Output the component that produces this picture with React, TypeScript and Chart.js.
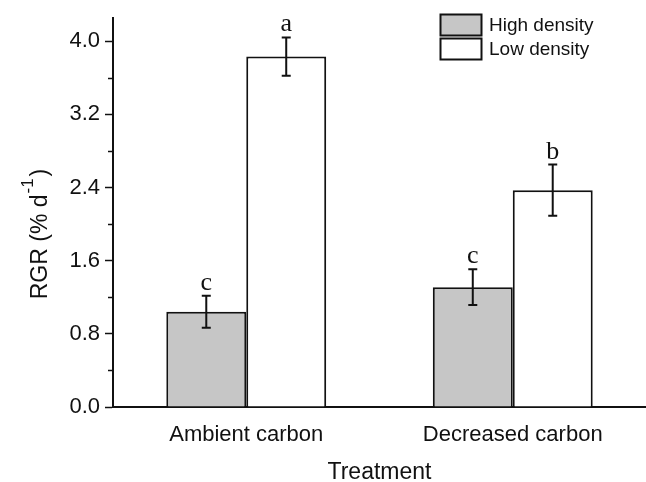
import React, { useEffect, useRef } from 'react';
import { Chart, registerables } from 'chart.js';

Chart.register(...registerables);

const categories = ['Ambient carbon', 'Decreased carbon'];
const seriesNames = ['High density', 'Low density'];
const highDensity = [1.04, 1.31];
const lowDensity = [3.83, 2.37];
const highErr = [0.175, 0.195];
const lowErr = [0.21, 0.28];
const highLetters = ['c', 'c'];
const lowLetters = ['a', 'b'];
const yTickValues = [0, 0.4, 0.8, 1.2, 1.6, 2.0, 2.4, 2.8, 3.2, 3.6, 4.0];
const yMajorTicks = [0, 0.8, 1.6, 2.4, 3.2, 4.0];
const yMin = 0;
const yMax = 4.25;
const xTitle = 'Treatment';

const errors = [highErr, lowErr];
const letters = [highLetters, lowLetters];
const fills = ['#c6c6c6', '#ffffff'];
const SANS = '"Liberation Sans", Arial, sans-serif';
const SERIF = '"Liberation Serif", "Times New Roman", serif';

const isMajor = (v: number) => yMajorTicks.some((m) => Math.abs(m - v) < 1e-6);

const customPlugin = {
  id: 'custom',
  afterDatasetsDraw(chart: any) {
    const ctx = chart.ctx;
    const yScale = chart.scales.y;
    ctx.save();
    chart.data.datasets.forEach((ds: any, di: number) => {
      const meta = chart.getDatasetMeta(di);
      meta.data.forEach((el: any, i: number) => {
        const v = ds.data[i];
        const e = errors[di][i];
        const x = el.x;
        const yt = yScale.getPixelForValue(v + e);
        const yb = yScale.getPixelForValue(v - e);
        ctx.strokeStyle = '#111';
        ctx.lineWidth = 2;
        ctx.beginPath();
        ctx.moveTo(x, yt);
        ctx.lineTo(x, yb);
        ctx.moveTo(x - 4.5, yt);
        ctx.lineTo(x + 4.5, yt);
        ctx.moveTo(x - 4.5, yb);
        ctx.lineTo(x + 4.5, yb);
        ctx.stroke();
        ctx.fillStyle = '#111';
        ctx.font = `26px ${SERIF}`;
        ctx.textAlign = 'center';
        ctx.textBaseline = 'alphabetic';
        ctx.fillText(letters[di][i], x, yt - 6);
      });
    });
    ctx.restore();
  },
  afterDraw(chart: any) {
    const ctx = chart.ctx;
    const yScale = chart.scales.y;
    const area = chart.chartArea;
    ctx.save();
    // minor ticks
    ctx.strokeStyle = '#111';
    ctx.lineWidth = 1.5;
    yTickValues.forEach((v) => {
      if (isMajor(v)) return;
      const y = Math.round(yScale.getPixelForValue(v)) + 0.5;
      ctx.beginPath();
      ctx.moveTo(area.left - 5, y);
      ctx.lineTo(area.left, y);
      ctx.stroke();
    });
    // legend
    const boxes = [14.5, 38.5];
    boxes.forEach((by, i) => {
      ctx.fillStyle = fills[i];
      ctx.fillRect(440.5, by, 41, 21);
      ctx.strokeStyle = '#111';
      ctx.lineWidth = 2;
      ctx.strokeRect(440.5, by, 41, 21);
      ctx.fillStyle = '#111';
      ctx.font = `19px ${SANS}`;
      ctx.textAlign = 'left';
      ctx.textBaseline = 'middle';
      ctx.fillText(seriesNames[i], 489, by + 11);
    });
    // y title with superscript
    ctx.translate(47, 234);
    ctx.rotate(-Math.PI / 2);
    ctx.fillStyle = '#111';
    ctx.textBaseline = 'alphabetic';
    ctx.textAlign = 'left';
    const mainFont = `23px ${SANS}`;
    const supFont = `17px ${SANS}`;
    const p1 = 'RGR (% d';
    const p2 = '-1';
    const p3 = ')';
    ctx.font = mainFont;
    const w1 = ctx.measureText(p1).width;
    const w3 = ctx.measureText(p3).width;
    ctx.font = supFont;
    const w2 = ctx.measureText(p2).width;
    let x = -(w1 + w2 + w3 + 3) / 2;
    ctx.font = mainFont;
    ctx.fillText(p1, x, 0);
    x += w1 + 1;
    ctx.font = supFont;
    ctx.fillText(p2, x, -14);
    x += w2 + 2;
    ctx.font = mainFont;
    ctx.fillText(p3, x, 0);
    ctx.restore();
  },
};

export default function App() {
  const ref = useRef<HTMLCanvasElement | null>(null);
  useEffect(() => {
    if (!ref.current) return;
    const chart = new Chart(ref.current, {
      type: 'bar',
      data: {
        labels: categories,
        datasets: [
          {
            label: seriesNames[0],
            data: highDensity,
            backgroundColor: fills[0],
            borderColor: '#111',
            borderWidth: 2,
            categoryPercentage: 0.6,
            barPercentage: 1.0,
          },
          {
            label: seriesNames[1],
            data: lowDensity,
            backgroundColor: fills[1],
            borderColor: '#111',
            borderWidth: 2,
            categoryPercentage: 0.6,
            barPercentage: 1.0,
          },
        ],
      },
      options: {
        responsive: false,
        animation: false,
        devicePixelRatio: 1,
        layout: { padding: { top: 15, right: 0, left: 0, bottom: 0 } },
        plugins: { legend: { display: false }, tooltip: { enabled: false } },
        scales: {
          x: {
            grid: { display: false, drawTicks: false },
            border: { display: true, color: '#111', width: 2 },
            ticks: { color: '#111', font: { family: SANS, size: 22 }, padding: 15 },
            title: {
              display: true,
              text: xTitle,
              color: '#111',
              font: { family: SANS, size: 23, lineHeight: 0.7 },
              padding: { top: 0, bottom: 1 },
            },
            afterFit: (s: any) => {
              s.height = 75;
            },
          },
          y: {
            min: yMin,
            max: yMax,
            afterBuildTicks: (s: any) => {
              s.ticks = yTickValues.map((v) => ({ value: v }));
            },
            grid: {
              drawOnChartArea: false,
              drawTicks: true,
              tickLength: 8,
              tickWidth: 1.5,
              tickColor: (c: any) => (c.tick && isMajor(c.tick.value) ? '#111' : 'rgba(0,0,0,0)'),
            },
            border: { display: true, color: '#111', width: 2 },
            ticks: {
              color: '#111',
              font: { family: SANS, size: 22 },
              padding: 5,
              autoSkip: false,
              callback: (v: any) => (isMajor(Number(v)) ? Number(v).toFixed(1) : ''),
            },
            afterFit: (s: any) => {
              s.width = 113;
            },
          },
        },
      },
      plugins: [customPlugin],
    } as any);
    return () => chart.destroy();
  }, []);
  return (
    <div style={{ position: 'fixed', left: 0, top: 0, width: 646, height: 482, background: '#fff' }}>
      <canvas ref={ref} width={646} height={482} />
    </div>
  );
}
